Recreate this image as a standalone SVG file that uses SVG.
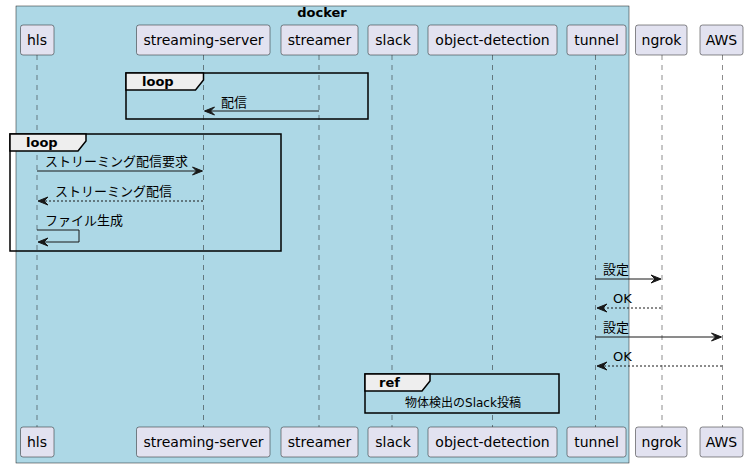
<svg xmlns="http://www.w3.org/2000/svg" width="750" height="468" viewBox="0 0 750 468">
<style>
.p{fill:#E2E2F0;stroke:#181818;stroke-width:0.5}
.pt{font-family:"DejaVu Sans","Noto Sans CJK JP",sans-serif;font-size:14px;fill:#000;text-anchor:middle}
.ll{stroke:#181818;stroke-width:0.5;stroke-dasharray:5,5;fill:none}
.fr{fill:none;stroke:#000;stroke-width:1.5}
.tab{fill:#EEEEEE;stroke:#000;stroke-width:1.5}
.ft{font-family:"DejaVu Sans","Noto Sans CJK JP",sans-serif;font-size:13px;font-weight:bold;fill:#000}
.m{stroke:#181818;stroke-width:1;fill:none}
.md{stroke:#181818;stroke-width:1;fill:none;stroke-dasharray:2,2}
.mt{font-family:"DejaVu Sans","Noto Sans CJK JP",sans-serif;font-size:13px;fill:#000}
.ah{fill:#181818;stroke:#181818;stroke-width:1}
</style>
<g id="docker">
<rect x="16" y="6" width="613" height="457" fill="#ADD8E6" stroke="#181818" stroke-width="0.5"/>
<text x="322" y="17" class="ft" text-anchor="middle">docker</text>
</g>
<g id="lifelines">
<line class="ll" x1="37" y1="55" x2="37" y2="427"/>
<line class="ll" x1="203.5" y1="55" x2="203.5" y2="427"/>
<line class="ll" x1="319" y1="55" x2="319" y2="427"/>
<line class="ll" x1="392" y1="55" x2="392" y2="427"/>
<line class="ll" x1="492.5" y1="55" x2="492.5" y2="427"/>
<line class="ll" x1="595.5" y1="55" x2="595.5" y2="427"/>
<line class="ll" x1="662" y1="55" x2="662" y2="427"/>
<line class="ll" x1="722.5" y1="55" x2="722.5" y2="427"/>
</g>
<g id="p-hls"><rect class="p" x="20.5" y="25" width="33.5" height="30" rx="2.5"/><text class="pt" x="37" y="45">hls</text>
<rect class="p" x="20.5" y="427" width="33.5" height="30" rx="2.5"/><text class="pt" x="37" y="447">hls</text></g>
<g id="p-streaming-server"><rect class="p" x="136.5" y="25" width="133.5" height="30" rx="2.5"/><text class="pt" x="203.5" y="45">streaming-server</text>
<rect class="p" x="136.5" y="427" width="133.5" height="30" rx="2.5"/><text class="pt" x="203.5" y="447">streaming-server</text></g>
<g id="p-streamer"><rect class="p" x="281" y="25" width="77" height="30" rx="2.5"/><text class="pt" x="319.5" y="45">streamer</text>
<rect class="p" x="281" y="427" width="77" height="30" rx="2.5"/><text class="pt" x="319.5" y="447">streamer</text></g>
<g id="p-slack"><rect class="p" x="368" y="25" width="50" height="30" rx="2.5"/><text class="pt" x="393" y="45">slack</text>
<rect class="p" x="368" y="427" width="50" height="30" rx="2.5"/><text class="pt" x="393" y="447">slack</text></g>
<g id="p-object-detection"><rect class="p" x="428" y="25" width="129" height="30" rx="2.5"/><text class="pt" x="492.5" y="45">object-detection</text>
<rect class="p" x="428" y="427" width="129" height="30" rx="2.5"/><text class="pt" x="492.5" y="447">object-detection</text></g>
<g id="p-tunnel"><rect class="p" x="567" y="25" width="59" height="30" rx="2.5"/><text class="pt" x="596.5" y="45">tunnel</text>
<rect class="p" x="567" y="427" width="59" height="30" rx="2.5"/><text class="pt" x="596.5" y="447">tunnel</text></g>
<g id="p-ngrok"><rect class="p" x="635.5" y="25" width="51.5" height="30" rx="2.5"/><text class="pt" x="661.5" y="45">ngrok</text>
<rect class="p" x="635.5" y="427" width="51.5" height="30" rx="2.5"/><text class="pt" x="661.5" y="447">ngrok</text></g>
<g id="p-AWS"><rect class="p" x="700" y="25" width="43" height="30" rx="2.5"/><text class="pt" x="721.5" y="45">AWS</text>
<rect class="p" x="700" y="427" width="43" height="30" rx="2.5"/><text class="pt" x="721.5" y="447">AWS</text></g>
<g id="loop1">
<rect class="fr" x="126" y="73" width="242" height="46"/>
<path class="tab" d="M126,73 H203.5 V80 L195.5,90 H126 Z"/>
<text class="ft" x="142" y="86">loop</text>
</g>
<g id="loop2">
<rect class="fr" x="10" y="134" width="271" height="117"/>
<path class="tab" d="M10,134 H86 V141 L78,151 H10 Z"/>
<text class="ft" x="26" y="147">loop</text>
</g>
<g id="ref">
<rect x="365" y="374" width="194" height="39" fill="#ADD8E6" stroke="#000" stroke-width="1.5"/>
<path class="tab" d="M365,374 H430 V381 L422,391 H365 Z"/>
<text class="ft" x="379" y="387">ref</text>
<text class="mt" x="463" y="407" text-anchor="middle" style="font-size:12px">物体検出のSlack投稿</text>
</g>
<g id="connectors">
<line class="m" x1="319" y1="111" x2="205" y2="111"/>
<polygon class="ah" points="204.5,111 214.5,107 210.5,111 214.5,115"/>
<text class="mt" x="221" y="107">配信</text>
<line class="m" x1="37" y1="171" x2="202" y2="171"/>
<polygon class="ah" points="202.5,171 192.5,167 196.5,171 192.5,175"/>
<text class="mt" x="45" y="166">ストリーミング配信要求</text>
<line class="md" x1="203" y1="201" x2="39" y2="201"/>
<polygon class="ah" points="38,201 48,197 44,201 48,205"/>
<text class="mt" x="55" y="196">ストリーミング配信</text>
<polyline class="m" points="37,230 79,230 79,242 39,242"/>
<polygon class="ah" points="38,242 48,238 44,242 48,246"/>
<text class="mt" x="45" y="225">ファイル生成</text>
<line class="m" x1="595.5" y1="279" x2="660" y2="279"/>
<polygon class="ah" points="661,279 651,275 655,279 651,283"/>
<text class="mt" x="603" y="274">設定</text>
<line class="md" x1="661" y1="308" x2="598" y2="308"/>
<polygon class="ah" points="597,308 607,304 603,308 607,312"/>
<text class="mt" x="613" y="303">OK</text>
<line class="m" x1="595.5" y1="337" x2="721" y2="337"/>
<polygon class="ah" points="721.5,337 711.5,333 715.5,337 711.5,341"/>
<text class="mt" x="603" y="332">設定</text>
<line class="md" x1="722" y1="366" x2="598" y2="366"/>
<polygon class="ah" points="597,366 607,362 603,366 607,370"/>
<text class="mt" x="613" y="361">OK</text>
</g>
</svg>
